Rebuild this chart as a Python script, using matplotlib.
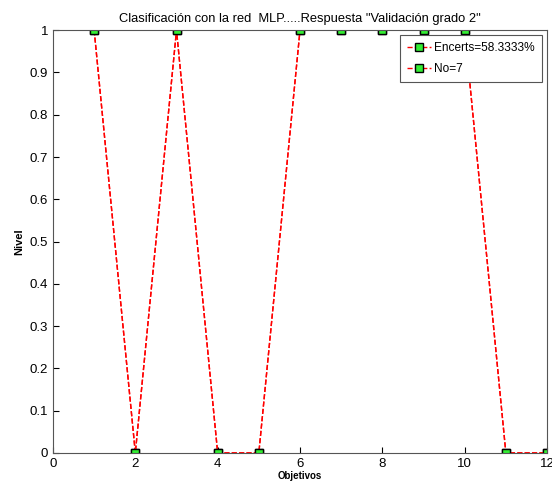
import numpy as np
import matplotlib.pyplot as plt

plt.rcParams['font.family'] = ['Liberation Sans', 'DejaVu Sans']

objetivos = [1, 2, 3, 4, 5, 6, 7, 8, 9, 10, 11, 12]
nivel = [1, 0, 1, 0, 0, 1, 1, 1, 1, 1, 0, 0]
labels = ['Encerts=58.3333%', 'No=7']

fig = plt.figure(figsize=(5.52, 4.87), dpi=100)
ax = fig.add_axes([0.096, 0.070, 0.895, 0.868])

for lab in labels:
    ax.plot(objetivos, nivel, ls='--', color='red', lw=1,
            marker='s', markersize=5.5, markerfacecolor='#33ee33',
            markeredgecolor='black', markeredgewidth=1, label=lab)

ax.set_xlim(0, 12)
ax.set_ylim(0, 1)
ax.set_xticks(np.arange(0, 13, 2))
ax.set_yticks(np.arange(0, 1.01, 0.1))
ax.set_yticklabels(['0', '0.1', '0.2', '0.3', '0.4', '0.5', '0.6', '0.7', '0.8', '0.9', '1'])
ax.tick_params(direction='in', labelsize=9.5, length=4, colors='black')
for s in ax.spines.values():
    s.set_color('#555555')

ax.set_xlabel('Objetivos', fontsize=7, fontweight='bold', labelpad=1)
ax.set_ylabel('Nivel', fontsize=8, fontweight='bold')
ax.set_title('Clasificación con la red  MLP.....Respuesta "Validación grado 2"', fontsize=9.3, pad=6)

leg = ax.legend(loc='upper right', fontsize=8.6, fancybox=False, framealpha=1,
                edgecolor='#555555', borderaxespad=0.4, handlelength=2.0,
                handletextpad=0.3, borderpad=0.6, labelspacing=0.75)
leg.get_frame().set_linewidth(0.8)

fig.savefig('out.png', dpi=100)
